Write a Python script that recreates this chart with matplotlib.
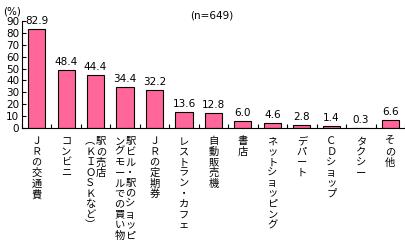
import matplotlib
matplotlib.use("Agg")
import matplotlib.pyplot as plt
import numpy as np

plt.rcParams['font.family'] = ['Noto Sans CJK JP', 'DejaVu Sans']

# label columns are listed right to left (vertical Japanese text)
categories = [
    ["ＪＲの交通費"],
    ["コンビニ"],
    ["駅の売店", "︵ＫＩＯＳＫなど︶"],
    ["駅ビル・駅のショッピ", "ングモールでの買い物"],
    ["ＪＲの定期券"],
    ["レストラン・カフェ"],
    ["自動販売機"],
    ["書店"],
    ["ネットショッピング"],
    ["デパート"],
    ["ＣＤショップ"],
    ["タクシー"],
    ["その他"],
]
values = [82.9, 48.4, 44.4, 34.4, 32.2, 13.6, 12.8, 6.0, 4.6, 2.8, 1.4, 0.3, 6.6]
yticks = list(range(0, 100, 10))

fig = plt.figure(figsize=(4.05, 2.5), dpi=100)
ax = fig.add_axes([0.054, 0.488, 0.946, 0.428])

x = np.arange(len(values))
ax.bar(x, values, width=0.58, color='#ff6699', edgecolor='black', linewidth=0.8)

for xi, v in zip(x, values):
    ax.text(xi, v + 2.5, f"{v:.1f}", ha='center', va='bottom', fontsize=7.5,
            family='DejaVu Sans')

ax.set_xlim(-0.5, len(values) - 0.5)
ax.set_ylim(0, 90)
ax.set_yticks(yticks)
ax.set_yticklabels([str(t) for t in yticks], fontsize=7.5, family='DejaVu Sans')
ax.set_xticks(np.arange(-0.5, len(values), 1.0))
ax.set_xticklabels([])
ax.tick_params(axis='x', direction='in', length=3, width=0.8)
ax.tick_params(axis='y', direction='in', length=3, width=0.8, pad=2)
ax.spines['top'].set_visible(False)
ax.spines['right'].set_visible(False)
ax.spines['left'].set_linewidth(0.8)
ax.spines['bottom'].set_linewidth(0.8)

for xi, cols in zip(x, categories):
    n = len(cols)
    for j, col in enumerate(cols):
        off = (n - 1) / 2 * 7.8 - j * 7.8
        ax.annotate("\n".join(col), xy=(xi, 0), xycoords=('data', 'axes fraction'),
                    xytext=(off, -6), textcoords='offset points',
                    ha='center', va='top', fontsize=7.4, linespacing=1.06)

fig.text(0.008, 0.975, "(%)", fontsize=7.5, va='top', family='DejaVu Sans')
fig.text(0.47, 0.96, "(n=649)", fontsize=7.5, va='top', family='DejaVu Sans')

fig.savefig("out.png", dpi=100)
